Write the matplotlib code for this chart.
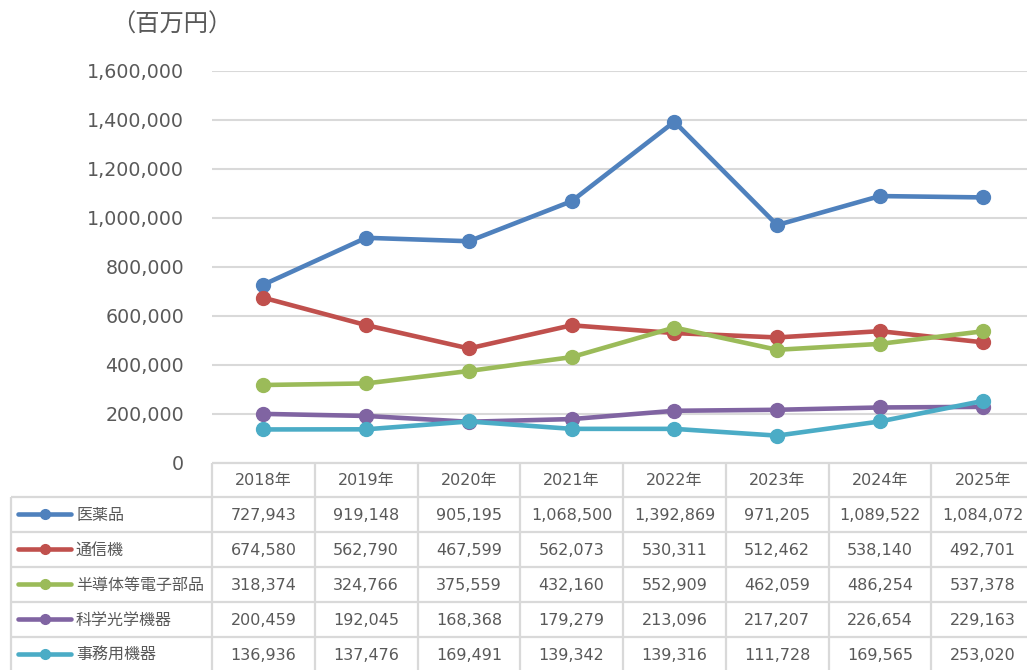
import matplotlib
matplotlib.use("Agg")
import matplotlib.pyplot as plt

plt.rcParams['font.family'] = ['DejaVu Sans', 'Noto Sans CJK JP']

years = ["2018年", "2019年", "2020年", "2021年", "2022年", "2023年", "2024年", "2025年"]
series_names = ["医薬品", "通信機", "半導体等電子部品", "科学光学機器", "事務用機器"]
pharma = [727943, 919148, 905195, 1068500, 1392869, 971205, 1089522, 1084072]
telecom = [674580, 562790, 467599, 562073, 530311, 512462, 538140, 492701]
semicon = [318374, 324766, 375559, 432160, 552909, 462059, 486254, 537378]
optical = [200459, 192045, 168368, 179279, 213096, 217207, 226654, 229163]
office = [136936, 137476, 169491, 139342, 139316, 111728, 169565, 253020]
values = [pharma, telecom, semicon, optical, office]
colors = ["#4f81bd", "#c0504d", "#9bbb59", "#8064a2", "#4bacc6"]
yticks = [0, 200000, 400000, 600000, 800000, 1000000, 1200000, 1400000, 1600000]

W, H = 1027, 670
text_color = "#595959"
border = "#d9d9d9"

fig = plt.figure(figsize=(W / 100, H / 100), dpi=100)

# chart area (pixel geometry converted to figure fractions)
left_px, right_px, top_px, bottom_px = 212, 1034, 71, 463
ax = fig.add_axes([left_px / W, 1 - bottom_px / H, (right_px - left_px) / W, (bottom_px - top_px) / H])
x = list(range(len(years)))
for vals, c in zip(values, colors):
    ax.plot(x, vals, color=c, lw=3.3, marker="o", markersize=10, solid_capstyle="round", clip_on=False)
ax.set_xlim(-0.5, len(years) - 0.5)
ax.set_ylim(0, 1600000)
ax.set_yticks(yticks)
ax.set_yticklabels([f"{v:,}" for v in yticks], fontsize=13.7, color=text_color)
ax.tick_params(axis="y", length=0, pad=20)
ax.set_xticks([])
ax.grid(axis="y", color=border, lw=1.5)
ax.set_axisbelow(True)
for s in ax.spines.values():
    s.set_visible(False)

fig.text(172 / W, 1 - 25 / H, "（百万円）", fontsize=17.5, color=text_color, ha="center", va="center")

# data table drawn in pixel space below the chart
tab = fig.add_axes([0, 0, 1, 1])
tab.set_xlim(0, W)
tab.set_ylim(H, 0)
tab.axis("off")

def col_px(xv):
    disp = ax.transData.transform((xv, 0))
    return disp[0] * W / fig.bbox.width

bounds = [col_px(i - 0.5) for i in range(len(years) + 1)]
centers = [col_px(i) for i in range(len(years))]
row_h = 35
header_top = bottom_px
header_bot = header_top + 34
row_tops = [header_bot + i * row_h for i in range(len(series_names) + 1)]
legend_left = 11

lk = dict(color=border, lw=1.6, solid_capstyle="butt")
# header row lines
tab.plot([bounds[0], W + 10], [header_top, header_top], **lk)
for b in bounds:
    tab.plot([b, b], [header_top, H + 5], **lk)
# row lines
for i, yt in enumerate(row_tops):
    tab.plot([legend_left, W + 10], [yt, yt], **lk)
tab.plot([legend_left, legend_left], [header_bot, H + 5], **lk)

for cx, yr in zip(centers, years):
    tab.text(cx, (header_top + header_bot) / 2 + 1, yr, fontsize=11.5, color=text_color, ha="center", va="center")

for i, (name, vals, c) in enumerate(zip(series_names, values, colors)):
    yc = row_tops[i] + row_h / 2
    tab.plot([18, 71], [yc - 1, yc - 1], color=c, lw=3.3, solid_capstyle="round")
    tab.plot([45], [yc - 1], marker="o", color=c, markersize=7)
    tab.text(76, yc + 1, name, fontsize=11.5, color=text_color, ha="left", va="center")
    for cx, v in zip(centers, vals):
        tab.text(cx, yc + 1, f"{v:,}", fontsize=11.5, color=text_color, ha="center", va="center")

fig.savefig("out.png", dpi=100)
